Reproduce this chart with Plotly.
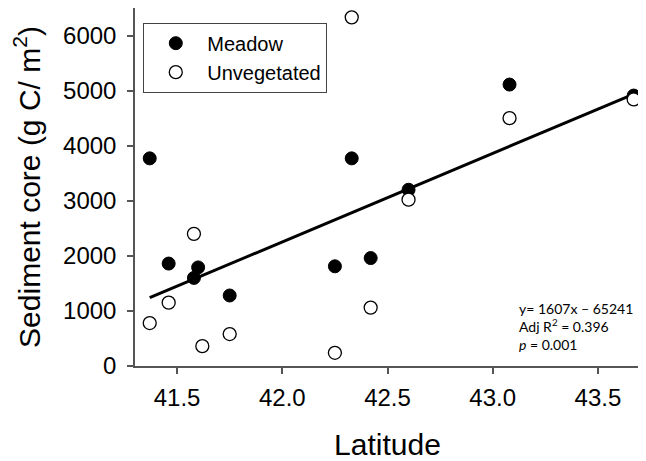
import plotly.graph_objects as go

# Data
meadow_lat = [41.37, 41.46, 41.60, 41.58, 41.75, 42.25, 42.42, 42.33, 42.60, 43.08, 43.67]
meadow_val = [3770, 1860, 1790, 1600, 1280, 1810, 1960, 3770, 3200, 5110, 4910]

unveg_lat = [41.37, 41.46, 41.58, 41.62, 41.75, 42.25, 42.33, 42.42, 42.60, 43.08, 43.67]
unveg_val = [780, 1150, 2400, 360, 580, 240, 6330, 1060, 3020, 4500, 4840]

slope = 1607
intercept = -65241
fit_lat = [min(meadow_lat + unveg_lat), max(meadow_lat + unveg_lat)]
fit_val = [slope * x + intercept for x in fit_lat]

x_ticks = [41.5, 42.0, 42.5, 43.0, 43.5]
x_tick_labels = ["41.5", "42.0", "42.5", "43.0", "43.5"]
y_ticks = [0, 1000, 2000, 3000, 4000, 5000, 6000]

font_main = "Liberation Sans, Arial, sans-serif"

fig = go.Figure()
fig.add_trace(go.Scatter(
    x=fit_lat, y=fit_val, mode="lines",
    line=dict(color="black", width=3), showlegend=False, hoverinfo="skip"))
fig.add_trace(go.Scatter(
    x=meadow_lat, y=meadow_val, mode="markers", name="Meadow",
    marker=dict(symbol="circle", size=13, color="black",
                line=dict(color="black", width=1))))
fig.add_trace(go.Scatter(
    x=unveg_lat, y=unveg_val, mode="markers", name="Unvegetated",
    marker=dict(symbol="circle", size=13, color="white",
                line=dict(color="black", width=1.3))))

axis_common = dict(
    showline=True, linecolor="#555555", linewidth=1.5, mirror=True,
    ticks="outside", ticklen=6, tickwidth=1.5, tickcolor="#555555",
    showgrid=False, zeroline=False, automargin=False,
    tickfont=dict(family=font_main, size=24, color="black"),
)

fig.update_layout(
    width=646, height=461,
    margin=dict(l=127, r=14, t=0, b=103),
    paper_bgcolor="white", plot_bgcolor="white",
    xaxis=dict(range=[41.3, 43.7], tickvals=x_ticks, ticktext=x_tick_labels,
               title=dict(text="Latitude", font=dict(family=font_main, size=30, color="black"),
                          standoff=24),
               ticklabelstandoff=3,
               **axis_common),
    yaxis=dict(range=[0, 6500], tickvals=y_ticks,
               title=dict(text="Sediment core (g C/ m<sup>2</sup>)",
                          font=dict(family=font_main, size=30, color="black"),
                          standoff=14),
               ticklabelstandoff=6,
               **axis_common),
    legend=dict(x=0.0164, y=0.959, xanchor="left", yanchor="top",
                bordercolor="#444444", borderwidth=1, bgcolor="white",
                font=dict(family=font_main, size=20, color="black"),
                itemwidth=53, tracegroupgap=0),
    annotations=[dict(
        xref="paper", yref="paper", x=0.756, y=0.19, xanchor="left", yanchor="top",
        align="left", showarrow=False,
        text="y= 1607x \u2013 65241<br>Adj R<sup>2</sup> = 0.396<br><i>p</i> = 0.001",
        font=dict(family="Lato, sans-serif", size=14, color="black"))],
)

fig.write_html("out.html")
